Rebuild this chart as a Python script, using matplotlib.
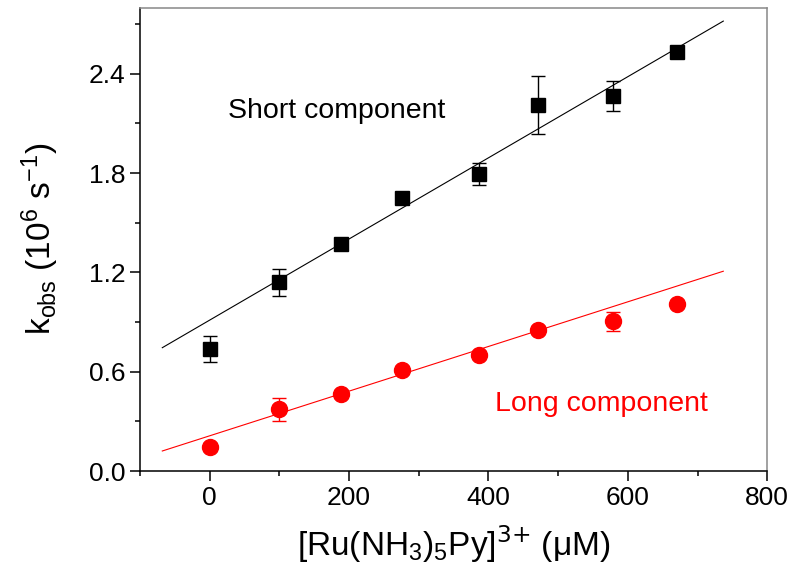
import numpy as np
import matplotlib
matplotlib.use('Agg')
import matplotlib.pyplot as plt
from matplotlib.ticker import MultipleLocator

plt.rcParams['font.family'] = ['Liberation Sans', 'DejaVu Sans']
plt.rcParams['mathtext.default'] = 'regular'

# concentration of [Ru(NH3)5Py]3+ (uM)
conc = [0, 100, 188, 276, 386, 471, 579, 670]

# short component k_obs (1e6 s^-1) and error
k_short = [0.736, 1.14, 1.372, 1.648, 1.794, 2.209, 2.267, 2.53]
err_short = [0.08, 0.08, 0.0, 0.0, 0.067, 0.176, 0.09, 0.0]

# long component
k_long = [0.143, 0.372, 0.463, 0.61, 0.698, 0.849, 0.905, 1.006]
err_long = [0.0, 0.072, 0.0, 0.0, 0.0, 0.0, 0.057, 0.0]

# linear fit lines (end points)
fit_x = [-68, 737]
fit_short = [0.745, 2.718]
fit_long = [0.121, 1.207]

fig = plt.figure(figsize=(8, 5.79), dpi=100)
ax = fig.add_axes([0.175, 0.1865, 0.784, 0.8005])

ax.plot(fit_x, fit_short, color='black', lw=0.8)
ax.plot(fit_x, fit_long, color='red', lw=0.8)

ax.errorbar(conc, k_short, yerr=err_short, fmt='s', color='black', ms=10,
            ecolor='black', elinewidth=1, capsize=5, capthick=1)
ax.errorbar(conc, k_long, yerr=err_long, fmt='o', color='red', ms=11.5,
            ecolor='red', elinewidth=1, capsize=5, capthick=1)

ax.text(26, 2.13, 'Short component', fontsize=20.5, color='black', va='baseline')
ax.text(409, 0.362, 'Long component', fontsize=20.5, color='red', va='baseline')

ax.set_xlim(-100, 800)
ax.set_ylim(0, 2.8)
ax.xaxis.set_major_locator(MultipleLocator(200))
ax.xaxis.set_minor_locator(MultipleLocator(100))
ax.yaxis.set_major_locator(MultipleLocator(0.6))
ax.yaxis.set_minor_locator(MultipleLocator(0.3))
ax.yaxis.set_major_formatter(plt.FuncFormatter(lambda v, p: '%.1f' % v))

ax.tick_params(which='both', direction='out', top=False, right=False, width=1.1)
ax.tick_params(which='major', length=7, labelsize=19)
ax.tick_params(which='minor', length=3.5)

for s in ['left', 'bottom']:
    ax.spines[s].set_linewidth(1.1)
    ax.spines[s].set_color('black')
for s in ['top', 'right']:
    ax.spines[s].set_linewidth(1.1)
    ax.spines[s].set_color('#888888')

ax.set_xlabel('[Ru(NH$_3$)$_5$Py]$^{\\text{3+}}$ (\u03bcM)', fontsize=24, labelpad=10)
ax.set_ylabel('k$_{obs}$ (10$^6$ s$^{-1}$)', fontsize=24, labelpad=20)

fig.savefig('out.png', dpi=100)
